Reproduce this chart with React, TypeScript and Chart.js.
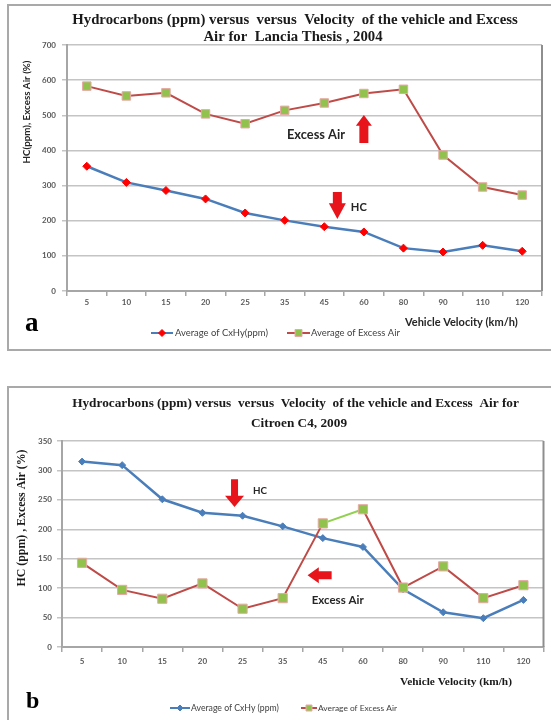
import React, { useEffect, useRef } from "react";
import { Chart, registerables } from "chart.js";
Chart.register(...registerables);

// ---------- data ----------
const velocityLabels = ["5", "10", "15", "20", "25", "35", "45", "60", "80", "90", "110", "120"];
const hcLancia = [355, 309, 286, 262, 222, 201, 183, 168, 122, 111, 130, 113];
const airLancia = [583, 555, 564, 504, 476, 514, 535, 562, 574, 387, 296, 273];
const yRangeLancia = [0, 700, 100];
const hcCitroen = [315, 309, 251, 228, 223, 205, 185, 170, 98, 59, 49, 80];
const airCitroen = [143, 97, 82, 108, 65, 83, 210, 234, 101, 137, 83, 105];
const yRangeCitroen = [0, 350, 50];

const titleLancia = ["Hydrocarbons (ppm) versus  versus  Velocity  of the vehicle and Excess", "Air for  Lancia Thesis , 2004"];
const titleCitroen = ["Hydrocarbons (ppm) versus  versus  Velocity  of the vehicle and Excess  Air for", "Citroen C4, 2009"];
const legendLancia = ["Average of CxHy(ppm)", "Average of Excess Air"];
const legendCitroen = ["Average of CxHy (ppm)", "Average of Excess Air"];
const yTitleLancia = "HC(ppm), Excess Air (%)";
const yTitleCitroen = "HC (ppm) , Excess Air (%)";
const xTitle = "Vehicle Velocity (km/h)";
const noteAir = "Excess Air";
const noteHC = "HC";

// ---------- styles ----------
const SERIF = '"Liberation Serif", "Times New Roman", serif';
const SANS = 'Lato, "Open Sans", sans-serif';
const BLUE = "#4a7ebb";
const RED = "#be4b48";
const GREEN = "#92c24e";
const LIME = "#92d050";
const PINK = "#e8a8a6";
const ARROW = "#e8141c";
const GRID = "#c4c4c4";
const AXIS = "#a6a6a6";

function fit(ctx: CanvasRenderingContext2D, text: string, weight: string, family: string, width: number) {
  ctx.font = `${weight} 20px ${family}`;
  const s = (20 * width) / ctx.measureText(text).width;
  ctx.font = `${weight} ${s.toFixed(2)}px ${family}`;
  return s;
}

function marker(ctx: CanvasRenderingContext2D, kind: string, x: number, y: number, r: number, fill: string, stroke: string) {
  ctx.save();
  ctx.beginPath();
  if (kind === "diamond") {
    ctx.moveTo(x, y - r);
    ctx.lineTo(x + r, y);
    ctx.lineTo(x, y + r);
    ctx.lineTo(x - r, y);
    ctx.closePath();
  } else {
    ctx.rect(x - r, y - r, 2 * r, 2 * r);
  }
  ctx.fillStyle = fill;
  ctx.fill();
  ctx.strokeStyle = stroke;
  ctx.lineWidth = 1;
  ctx.stroke();
  ctx.restore();
}

function vArrow(ctx: CanvasRenderingContext2D, cx: number, yTail: number, yBase: number, yTip: number, hh: number, sh: number) {
  ctx.save();
  ctx.beginPath();
  ctx.moveTo(cx - sh, yTail);
  ctx.lineTo(cx + sh, yTail);
  ctx.lineTo(cx + sh, yBase);
  ctx.lineTo(cx + hh, yBase);
  ctx.lineTo(cx, yTip);
  ctx.lineTo(cx - hh, yBase);
  ctx.lineTo(cx - sh, yBase);
  ctx.closePath();
  ctx.fillStyle = ARROW;
  ctx.fill();
  ctx.restore();
}

function hArrow(ctx: CanvasRenderingContext2D, cy: number, xTail: number, xBase: number, xTip: number, hh: number, sh: number) {
  ctx.save();
  ctx.beginPath();
  ctx.moveTo(xTail, cy - sh);
  ctx.lineTo(xTail, cy + sh);
  ctx.lineTo(xBase, cy + sh);
  ctx.lineTo(xBase, cy + hh);
  ctx.lineTo(xTip, cy);
  ctx.lineTo(xBase, cy - hh);
  ctx.lineTo(xBase, cy - sh);
  ctx.closePath();
  ctx.fillStyle = ARROW;
  ctx.fill();
  ctx.restore();
}

function text(ctx: CanvasRenderingContext2D, t: string, x: number, y: number, align: CanvasTextAlign, color: string) {
  ctx.textAlign = align;
  ctx.textBaseline = "middle";
  ctx.fillStyle = color;
  ctx.fillText(t, x, y);
}

function legendItem(ctx: CanvasRenderingContext2D, x0: number, x1: number, y: number, lineColor: string, kind: string, r: number, fill: string, stroke: string, label: string, tx: number, tw: number) {
  ctx.save();
  ctx.strokeStyle = lineColor;
  ctx.lineWidth = 2;
  ctx.beginPath();
  ctx.moveTo(x0, y);
  ctx.lineTo(x1, y);
  ctx.stroke();
  marker(ctx, kind, (x0 + x1) / 2, y, r, fill, stroke);
  fit(ctx, label, "normal", SANS, tw);
  text(ctx, label, tx, y, "left", "#404040");
  ctx.restore();
}

function plotFrame(chart: any) {
  const ctx = chart.ctx as CanvasRenderingContext2D;
  const a = chart.chartArea;
  ctx.save();
  ctx.strokeStyle = "#8e8e8e";
  ctx.lineWidth = 2;
  ctx.beginPath();
  ctx.moveTo(a.right, a.top);
  ctx.lineTo(a.right, a.bottom);
  ctx.stroke();
  ctx.restore();
}

function decorLancia(chart: any) {
  const ctx = chart.ctx as CanvasRenderingContext2D;
  const X = (i: number) => chart.scales.x.getPixelForValue(i);
  const Y = (v: number) => chart.scales.y.getPixelForValue(v);
  plotFrame(chart);
  ctx.save();
  fit(ctx, titleLancia[0], "bold", SERIF, 446);
  text(ctx, titleLancia[0], 295, 20, "center", "#1a1a1a");
  text(ctx, titleLancia[1], 293, 37, "center", "#1a1a1a");
  ctx.save();
  ctx.translate(27, 112);
  ctx.rotate(-Math.PI / 2);
  fit(ctx, yTitleLancia, "bold", SANS, 103);
  text(ctx, yTitleLancia, 0, 0, "center", "#262626");
  ctx.restore();
  fit(ctx, xTitle, "bold", SANS, 113);
  text(ctx, xTitle, 405, 322, "left", "#262626");
  legendItem(ctx, 151, 173, 333, BLUE, "diamond", 3.5, "#ff0000", "#ff0000", legendLancia[0], 175, 93);
  legendItem(ctx, 287, 310, 333, RED, "rect", 3.5, GREEN, PINK, legendLancia[1], 311, 89);
  ctx.font = `bold 27px ${SERIF}`;
  ctx.textAlign = "left";
  ctx.textBaseline = "alphabetic";
  ctx.fillStyle = "#000";
  ctx.fillText("a", 25, 331);
  vArrow(ctx, X(7.0), Y(421), Y(470), Y(501), 8, 4.5);
  fit(ctx, noteAir, "bold", SANS, 58);
  text(ctx, noteAir, X(5.79), Y(444), "center", "#262626");
  vArrow(ctx, X(6.33), Y(282), Y(250), Y(205), 8.5, 4.5);
  fit(ctx, noteHC, "bold", SANS, 16);
  text(ctx, noteHC, X(6.67), Y(239), "left", "#262626");
  ctx.restore();
}

function decorCitroen(chart: any) {
  const ctx = chart.ctx as CanvasRenderingContext2D;
  const X = (i: number) => chart.scales.x.getPixelForValue(i);
  const Y = (v: number) => chart.scales.y.getPixelForValue(v);
  const oy = 380;
  plotFrame(chart);
  ctx.save();
  fit(ctx, titleCitroen[0], "bold", SERIF, 447);
  text(ctx, titleCitroen[0], 295.5, 404 - oy, "center", "#1a1a1a");
  text(ctx, titleCitroen[1], 299, 424 - oy, "center", "#1a1a1a");
  ctx.save();
  ctx.translate(21.5, 518 - oy);
  ctx.rotate(-Math.PI / 2);
  fit(ctx, yTitleCitroen, "bold", SERIF, 137);
  text(ctx, yTitleCitroen, 0, 0, "center", "#1a1a1a");
  ctx.restore();
  fit(ctx, xTitle, "bold", SERIF, 112);
  text(ctx, xTitle, 400, 682 - oy, "left", "#1a1a1a");
  legendItem(ctx, 170, 190, 708 - oy, BLUE, "diamond", 3, BLUE, BLUE, legendCitroen[0], 191, 88);
  legendItem(ctx, 301, 317, 708 - oy, RED, "rect", 3, GREEN, PINK, legendCitroen[1], 318, 79);
  ctx.font = `bold 24px ${SERIF}`;
  ctx.textAlign = "left";
  ctx.textBaseline = "alphabetic";
  ctx.fillStyle = "#000";
  ctx.fillText("b", 26, 708 - oy);
  vArrow(ctx, X(3.8), Y(285), Y(257), Y(238), 9.5, 3.5);
  fit(ctx, noteHC, "bold", SANS, 14);
  text(ctx, noteHC, X(4.26), Y(265), "left", "#262626");
  hArrow(ctx, Y(122), X(6.22), X(5.9), X(5.62), 8, 4);
  fit(ctx, noteAir, "bold", SANS, 52);
  text(ctx, noteAir, X(6.37), Y(80), "center", "#262626");
  ctx.restore();
}

function baseOptions(yr: number[], pad: any, xPad: number, yPad: number) {
  return {
    responsive: false,
    animation: false as const,
    devicePixelRatio: 1,
    layout: { padding: pad },
    plugins: { legend: { display: false }, title: { display: false }, tooltip: { enabled: false } },
    scales: {
      x: {
        type: "category" as const,
        offset: true,
        afterFit: (s: any) => { s.height = 20; },
        grid: { display: true, drawOnChartArea: false, drawTicks: true, tickLength: 5, offset: true, color: AXIS, lineWidth: 1.5 },
        border: { display: true, color: AXIS, width: 2 },
        ticks: { padding: xPad, color: "#595959", font: { family: SANS, size: 8, weight: "bold" as const }, maxRotation: 0, autoSkip: false },
      },
      y: {
        min: yr[0],
        max: yr[1],
        afterFit: (s: any) => { s.width = 40; },
        grid: { color: GRID, lineWidth: 1.5, drawTicks: true, tickLength: 5 },
        border: { display: true, color: AXIS, width: 2 },
        ticks: { stepSize: yr[2], padding: yPad, color: "#595959", font: { family: SANS, size: 8, weight: "bold" as const } },
      },
    },
  };
}

function makeLancia(canvas: HTMLCanvasElement) {
  const opts: any = baseOptions(yRangeLancia, { left: 27, right: 9, top: 45, bottom: 49 }, 2, 6);
  return new Chart(canvas, {
    type: "line",
    data: {
      labels: velocityLabels,
      datasets: [
        { label: legendLancia[0], data: hcLancia, borderColor: BLUE, borderWidth: 2.5, pointStyle: "rectRot", pointRadius: 4, pointBackgroundColor: "#ff0000", pointBorderColor: "#ff0000", pointBorderWidth: 1, tension: 0, order: 2 },
        { label: legendLancia[1], data: airLancia, borderColor: RED, borderWidth: 2, pointStyle: "rect", pointRadius: 6, pointBackgroundColor: GREEN, pointBorderColor: PINK, pointBorderWidth: 1, tension: 0, order: 1 },
      ],
    },
    options: opts,
    plugins: [{ id: "decorA", afterDraw: (c: any) => decorLancia(c) }],
  });
}

function makeCitroen(canvas: HTMLCanvasElement) {
  const opts: any = baseOptions(yRangeCitroen, { left: 22, right: 5, top: 61, bottom: 53 }, 5, 5);
  return new Chart(canvas, {
    type: "line",
    data: {
      labels: velocityLabels,
      datasets: [
        { label: legendCitroen[0], data: hcCitroen, borderColor: BLUE, borderWidth: 2.5, pointStyle: "rectRot", pointRadius: 3.5, pointBackgroundColor: BLUE, pointBorderColor: BLUE, pointBorderWidth: 1, tension: 0, order: 2 },
        {
          label: legendCitroen[1], data: airCitroen, borderColor: RED, borderWidth: 2, pointStyle: "rect", pointRadius: 6.5, pointBackgroundColor: GREEN, pointBorderColor: PINK, pointBorderWidth: 1, tension: 0, order: 1,
          segment: { borderColor: (s: any) => (s.p0DataIndex === 6 ? LIME : undefined) },
        },
      ],
    },
    options: opts,
    plugins: [{ id: "decorB", afterDraw: (c: any) => decorCitroen(c) }],
  });
}

function Panel({ top, height, make }: { top: number; height: number; make: (c: HTMLCanvasElement) => Chart }) {
  const ref = useRef<HTMLCanvasElement | null>(null);
  useEffect(() => {
    if (!ref.current) return;
    const ch = make(ref.current);
    return () => ch.destroy();
  }, [make]);
  return <canvas ref={ref} width={551} height={height} style={{ position: "absolute", left: 0, top, width: 551, height }} />;
}

export default function App() {
  return (
    <div style={{ position: "absolute", left: 0, top: 0, width: 551, height: 720, overflow: "hidden", background: "#fff" }}>
      <div style={{ position: "absolute", left: 7, top: 4, width: 560, height: 343, border: "2px solid #a9a9a9" }} />
      <div style={{ position: "absolute", left: 7, top: 386, width: 560, height: 400, border: "2px solid #a9a9a9" }} />
      <Panel top={0} height={360} make={makeLancia} />
      <Panel top={380} height={340} make={makeCitroen} />
    </div>
  );
}
